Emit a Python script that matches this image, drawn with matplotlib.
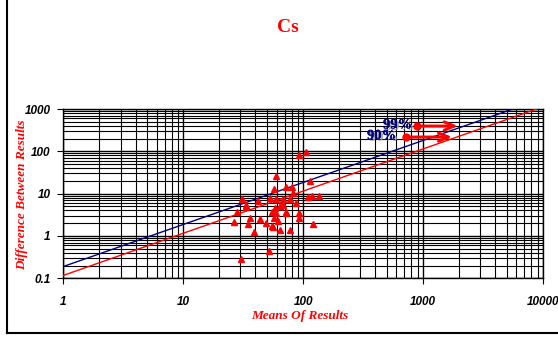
import matplotlib
matplotlib.use("Agg")
import matplotlib.pyplot as plt
from matplotlib.lines import Line2D
from matplotlib.ticker import LogLocator, NullFormatter, FixedLocator, FixedFormatter
import matplotlib.patheffects as pe

# ---- data ----
means = [92.4, 105.7, 59.8, 114.2, 57.5, 72.4, 80.8, 82.8, 30.8, 41.8,
         53.3, 59.4, 68.0, 78.2, 87.3, 109.9, 118.6, 136.5, 33.4, 33.2,
         27.9, 54.7, 58.6, 64.2, 68.4, 59.4, 71.6, 72.4, 93.0, 36.1,
         43.5, 57.2, 93.0, 26.4, 34.9, 49.3, 62.1, 120.3, 55.0, 56.4,
         38.7, 64.2, 78.2, 51.6, 30.3]
diffs = [81.9, 98.0, 26.1, 20.2, 12.9, 14.6, 14.6, 10.5, 7.36, 6.82,
         7.77, 7.36, 7.48, 7.36, 6.11, 8.20, 8.81, 8.81, 5.40, 4.76,
         3.69, 3.75, 4.51, 5.11, 5.40, 3.44, 3.75, 3.44, 3.55, 2.70,
         2.52, 2.70, 2.62, 2.18, 1.95, 2.00, 2.26, 1.92, 1.72, 1.60,
         1.26, 1.39, 1.39, 0.442, 0.291]

line99_x = [1, 5600]
line99_y = [0.19, 1000]
line90_x = [1, 8850]
line90_y = [0.117, 1000]

xticks = [1, 10, 100, 1000, 10000]
xticklabels = ["1", "10", "100", "1000", "10000"]
yticks = [0.1, 1, 10, 100, 1000]
yticklabels = ["0.1", "1", "10", "100", "1000"]

ann99_text = (810, 420)
ann99_arrow = ((891, 395), (1950, 395))
ann90_text = (596, 232)
ann90_arrow = ((721, 217), (1747, 217))

# ---- figure ----
fig = plt.figure(figsize=(5.58, 3.38), dpi=100)
ax = fig.add_axes([63.3/558, 1-278.3/338, (543-63.3)/558, (278.3-109)/338])

ax.set_xscale("log")
ax.set_yscale("log")
ax.set_xlim(1, 10000)
ax.set_ylim(0.1, 1000)

ax.xaxis.set_minor_locator(LogLocator(base=10, subs=range(2, 10)))
ax.yaxis.set_minor_locator(LogLocator(base=10, subs=range(2, 10)))
ax.xaxis.set_minor_formatter(NullFormatter())
ax.yaxis.set_minor_formatter(NullFormatter())
ax.grid(True, which="major", color="black", linewidth=1.0)
ax.grid(True, which="minor", color="black", linewidth=0.8)
ax.set_axisbelow(True)

ax.xaxis.set_major_locator(FixedLocator(xticks))
ax.xaxis.set_major_formatter(FixedFormatter(xticklabels))
ax.yaxis.set_major_locator(FixedLocator(yticks))
ax.yaxis.set_major_formatter(FixedFormatter(yticklabels))
ax.tick_params(which="minor", length=0)
ax.tick_params(which="major", length=4, width=0.8, color="black", direction="out")
ax.tick_params(axis="x", pad=9)
ax.tick_params(axis="y", pad=5)
for lab in ax.get_xticklabels() + ax.get_yticklabels():
    lab.set_fontfamily("Liberation Sans")
    lab.set_fontweight("bold")
    lab.set_fontstyle("italic")
    lab.set_fontsize(8.5)

for s in ax.spines.values():
    s.set_color("black")
    s.set_linewidth(1.0)

ax.plot(line99_x, line99_y, color="#000080", linewidth=1.0, zorder=3)
ax.plot(line90_x, line90_y, color="red", linewidth=1.0, zorder=3)
ax.plot(means, diffs, linestyle="none", marker="^", markersize=4.5,
        color="red", markeredgecolor="red", zorder=4, clip_on=False)

shadow = [pe.withSimplePatchShadow(offset=(1.5, -1), shadow_rgbFace="#a0a0a0", alpha=0.9), pe.Normal()]
ax.text(ann99_text[0], ann99_text[1], "99%", color="#000080", fontsize=10.5,
        fontfamily="Liberation Serif", fontweight="bold", ha="right", va="center",
        path_effects=shadow, zorder=5)
ax.text(ann90_text[0], ann90_text[1], "90%", color="#000080", fontsize=10.5,
        fontfamily="Liberation Serif", fontweight="bold", ha="right", va="center",
        path_effects=shadow, zorder=5)
for (start, end) in (ann99_arrow, ann90_arrow):
    ax.annotate("", xy=end, xytext=start,
                arrowprops=dict(arrowstyle="->,head_length=0.7,head_width=0.3",
                                color="red", linewidth=2.2, shrinkA=0, shrinkB=0),
                zorder=5)
    ax.plot([start[0]], [start[1]], marker="o", markersize=5, color="red", zorder=5)

ax.set_ylabel("Difference Between Results", color="red", fontsize=9.5,
              fontfamily="Liberation Serif", fontweight="bold", fontstyle="italic")
ax.yaxis.set_label_coords((22-63.3)/(543-63.3), (278.3-195)/(278.3-109))
ax.set_xlabel("Means Of Results", color="red", fontsize=9.5,
              fontfamily="Liberation Serif", fontweight="bold", fontstyle="italic")
ax.xaxis.set_label_coords((300-63.3)/(543-63.3), -(316-278.3)/(278.3-109))
ax.xaxis.label.set_va("center")
ax.yaxis.label.set_va("center")

fig.text(288/558, 1-27/338, "Cs", color="red", fontsize=14,
         fontfamily="Liberation Serif", fontweight="bold", ha="center", va="center")

# outer frame (left and bottom visible)
fig.add_artist(Line2D([6.7/558, 6.7/558], [1-333/338, 1.01], transform=fig.transFigure,
                      color="black", linewidth=1.5))
fig.add_artist(Line2D([6.7/558, 1.01], [1-333/338, 1-333/338], transform=fig.transFigure,
                      color="black", linewidth=1.5))

fig.savefig("out.png", dpi=100, facecolor="white")
